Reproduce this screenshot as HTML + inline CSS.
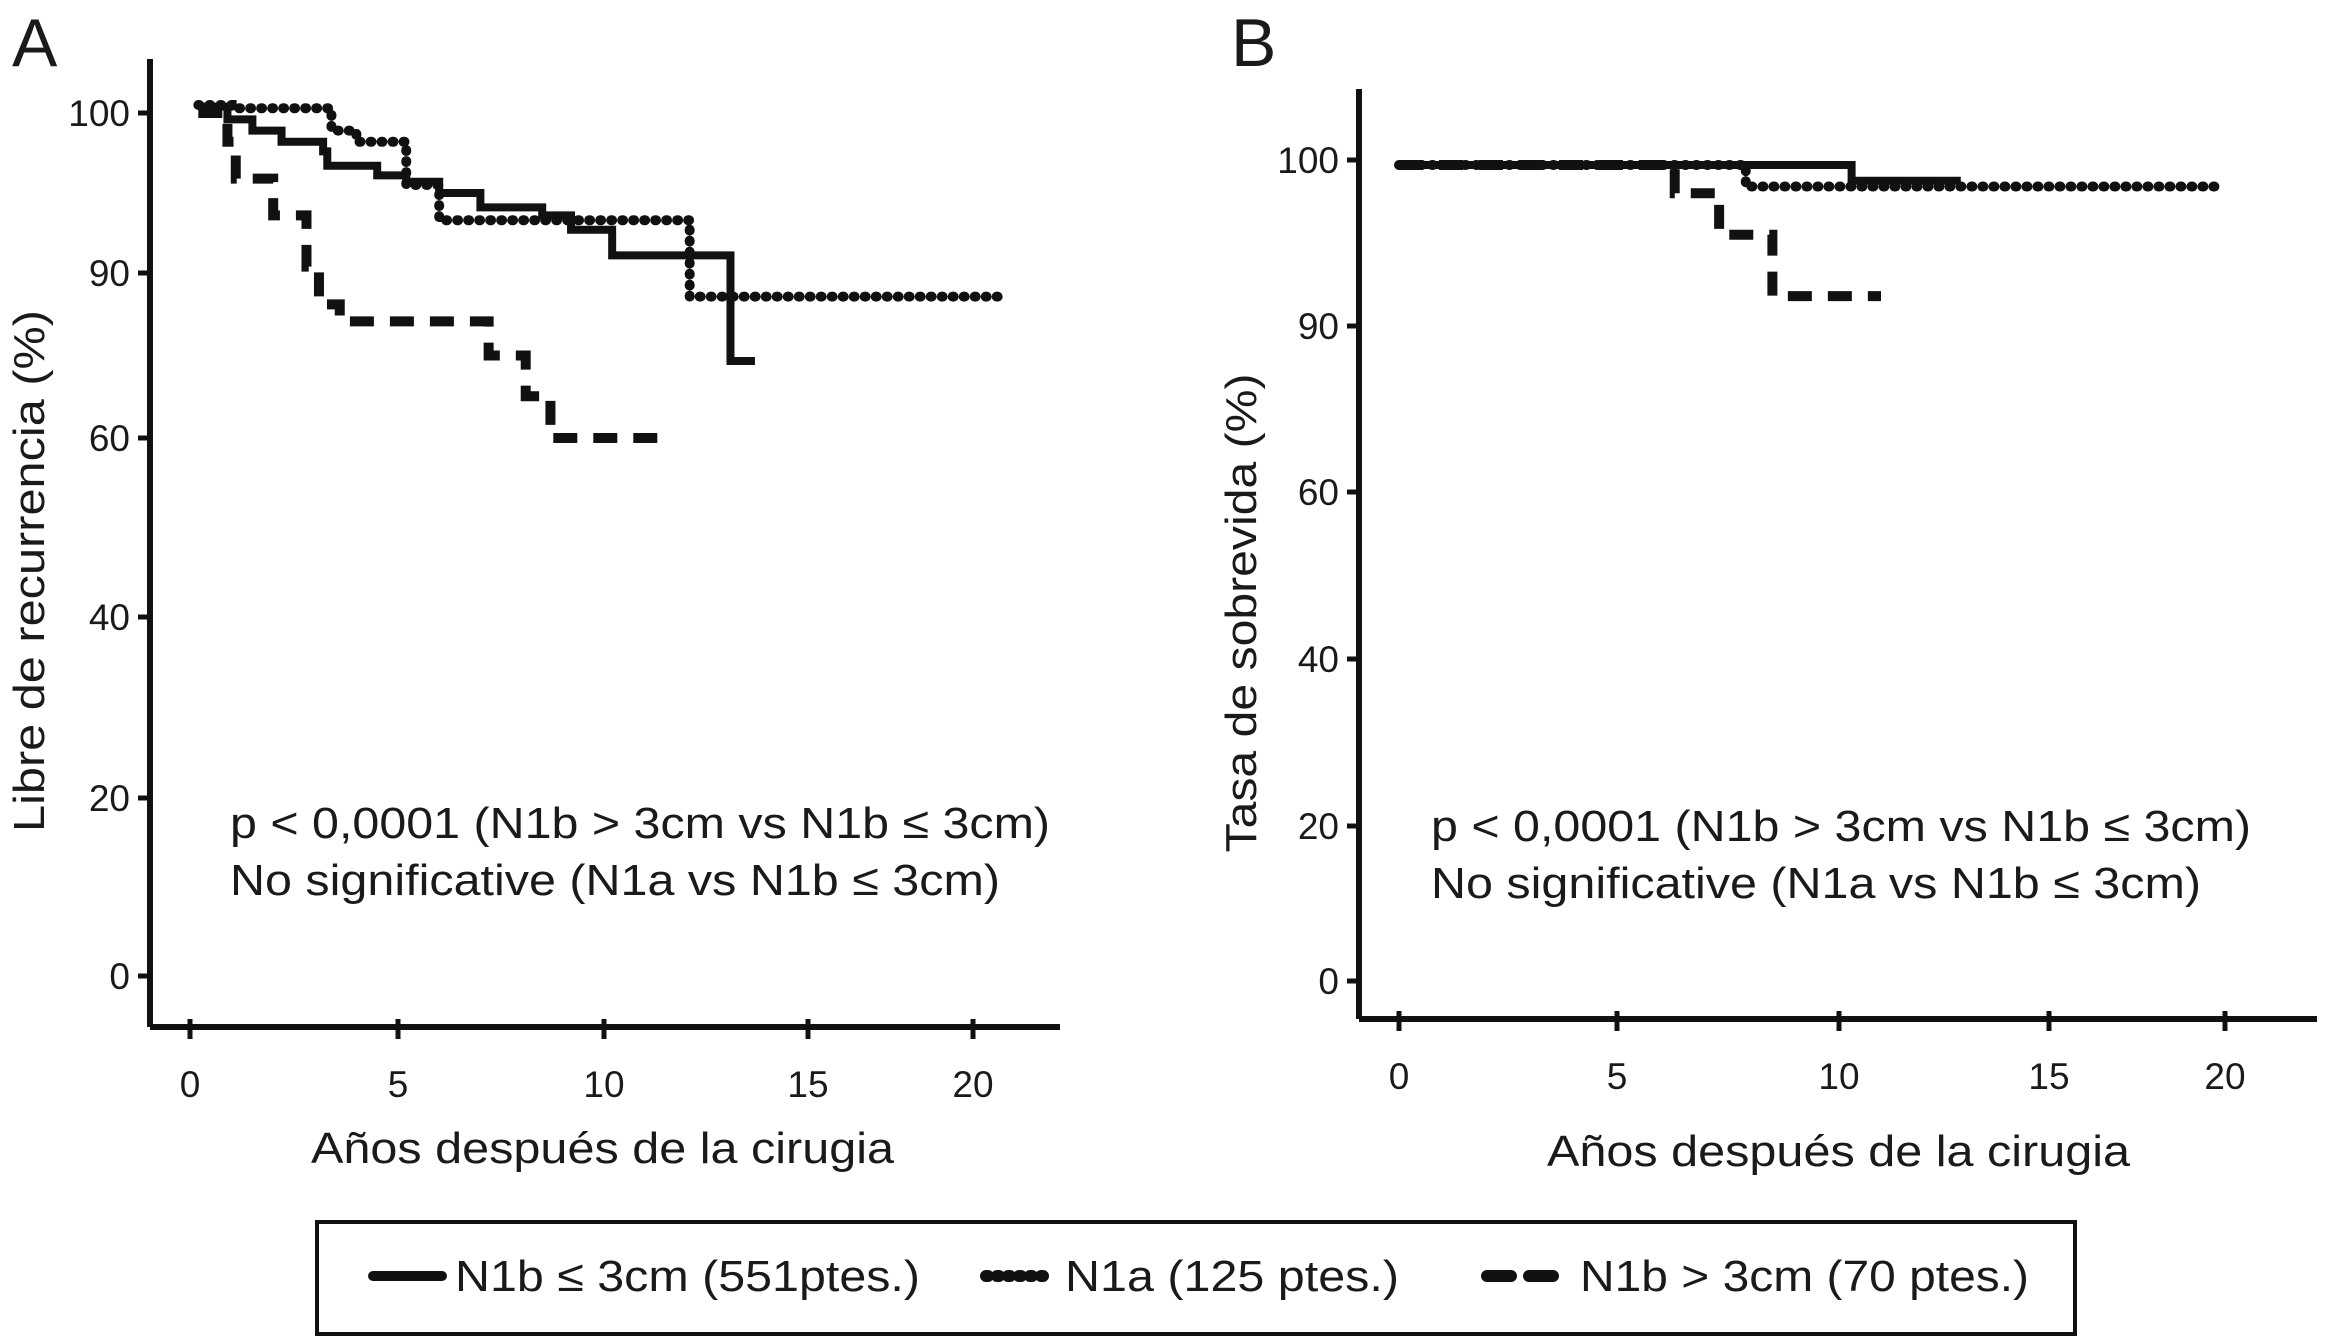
<!DOCTYPE html>
<html><head><meta charset="utf-8">
<style>
html,body{margin:0;padding:0;background:#fff;}
svg{display:block;}
text{font-family:"Liberation Sans",Arial,sans-serif;fill:#1a1a1a;}
</style></head>
<body>
<svg id="fig" width="2326" height="1337" viewBox="0 0 2326 1337" xmlns="http://www.w3.org/2000/svg">
<g id="pa"></g>
<g id="pb"></g>
<g>
  <rect x="317" y="1222" width="1758" height="112" fill="none" stroke="#111" stroke-width="4"/>
  <g>
    <line x1="373" y1="1276" x2="442" y2="1276" stroke="#111" stroke-width="10" stroke-linecap="round"/>
    <text x="455" y="1291" font-size="44" textLength="465" lengthAdjust="spacingAndGlyphs">N1b ≤ 3cm (551ptes.)</text>
  </g>
  <g>
    <line x1="986" y1="1276" x2="1050" y2="1276" stroke="#111" stroke-width="12" stroke-dasharray="2 9" stroke-linecap="round"/>
    <text x="1065" y="1291" font-size="44" textLength="334" lengthAdjust="spacingAndGlyphs">N1a (125 ptes.)</text>
  </g>
  <g>
    <line x1="1487" y1="1276" x2="1565" y2="1276" stroke="#111" stroke-width="12" stroke-dasharray="24 18" stroke-linecap="round"/>
    <text x="1580" y="1291" font-size="44" textLength="449" lengthAdjust="spacingAndGlyphs">N1b &gt; 3cm (70 ptes.)</text>
  </g>
</g>
</svg>
<script>
// ---- Panel A data ----
const xTickLabels = [0, 5, 10, 15, 20];
const yTickLabels = [0, 20, 40, 60, 90, 100];
const aSolidT = [0.2, 0.9, 1.5, 2.2, 3.2, 3.3, 4.5, 5.2, 6.0, 7.0, 8.5, 9.2, 10.2, 13.1, 13.7];
const aSolidV = [100.4, 99.6, 98.9, 98.2, 97.6, 96.7, 96.1, 95.7, 95.0, 94.1, 93.6, 92.7, 91.1, 74, 74];
const aDotT = [0.2, 1.0, 3.4, 4.0, 5.2, 6.0, 12.1, 21.0];
const aDotV = [100.5, 100.3, 98.9, 98.2, 95.5, 93.3, 85.7, 85.7];
const aDashT = [0.2, 0.9, 1.1, 2.0, 2.8, 3.1, 3.6, 7.2, 8.1, 8.7, 11.5];
const aDashV = [100, 98.2, 95.9, 93.6, 90.4, 84.3, 81.2, 75, 67.6, 60, 60];
// ---- Panel B data ----
const bSolidT = [0, 10.3, 12.9];
const bSolidV = [99.7, 98.75, 98.75];
const bDotT = [0, 7.9, 19.7];
const bDotV = [99.7, 98.4, 98.4];
const bDashT = [0, 6.3, 7.3, 8.5, 11.0];
const bDashV = [99.7, 98.0, 95.5, 91.8, 91.8];

const NS = "http://www.w3.org/2000/svg";
function mk(tag, attrs, parent) {
  const e = document.createElementNS(NS, tag);
  for (const k in attrs) e.setAttribute(k, attrs[k]);
  parent.appendChild(e);
  return e;
}
function piece(domain, range) {
  return v => {
    for (let i = 0; i < domain.length - 1; i++) {
      if (v <= domain[i + 1] || i === domain.length - 2) {
        return range[i] + (v - domain[i]) / (domain[i + 1] - domain[i]) * (range[i + 1] - range[i]);
      }
    }
  };
}
function stepPath(T, V, sx, sy) {
  let d = "M" + sx(T[0]) + "," + sy(V[0]);
  for (let i = 1; i < T.length; i++) {
    d += " H" + sx(T[i]) + " V" + sy(V[i]);
  }
  return d;
}
function panel(g, cfg) {
  const sx = piece(xTickLabels, cfg.xpix);
  const sy = piece(yTickLabels, cfg.ypix);
  const ya = mk("line", {x1: cfg.ax, y1: cfg.top, x2: cfg.ax, y2: cfg.ay, stroke: "#111", "stroke-width": 6}, g);
  
  
  const xa = mk("line", {x1: cfg.ax, y1: cfg.ay, x2: cfg.right, y2: cfg.ay, stroke: "#111", "stroke-width": 6}, g);
  
  
  xTickLabels.forEach(v => {
    const x = sx(v);
    mk("line", {x1: x, y1: cfg.ay - 8, x2: x, y2: cfg.ay + 12, stroke: "#111", "stroke-width": 5}, g);
    const t = mk("text", {x: x, y: cfg.ay + 70, "font-size": 37, "text-anchor": "middle"}, g);
    t.textContent = v;
    
    
  });
  yTickLabels.forEach(v => {
    const y = sy(v);
    mk("line", {x1: cfg.ax - 12, y1: y, x2: cfg.ax, y2: y, stroke: "#111", "stroke-width": 5}, g);
    const t = mk("text", {x: cfg.ax - 20, y: y + 13, "font-size": 37, "text-anchor": "end"}, g);
    t.textContent = v;
    
    
  });
  const series = [
    [cfg.solid, {"stroke-width": 8}, 'curve-n1b-small'],
    [cfg.dot, {"stroke-width": 10, "stroke-dasharray": "1 10", "stroke-linecap": "round"}, 'curve-n1a'],
    [cfg.dash, {"stroke-width": 10, "stroke-dasharray": "24 16"}, 'curve-n1b-large']
  ];
  series.forEach(s => {
    const a = Object.assign({d: stepPath(s[0][0], s[0][1], sx, sy), fill: "none", stroke: "#111"}, s[1]);
    const p = mk("path", a, g);
    
    
  });
  const L = mk("text", {x: cfg.letterX, y: 66, "font-size": 68}, g);
  L.textContent = cfg.letter;
  
  
  const yt = mk("text", {x: 0, y: 0, "font-size": 44, "text-anchor": "middle", transform: "translate(" + cfg.ytX + "," + cfg.ytY + ") rotate(-90)", textLength: cfg.ytLen, lengthAdjust: "spacingAndGlyphs"}, g);
  yt.textContent = cfg.ytitle;
  
  
  const xt = mk("text", {x: cfg.xtX, y: cfg.xtY, "font-size": 44, textLength: 583, lengthAdjust: "spacingAndGlyphs"}, g);
  xt.textContent = "Años después de la cirugia";
  
  
  const n1 = mk("text", {x: cfg.anX, y: cfg.anY, "font-size": 44, textLength: 820, lengthAdjust: "spacingAndGlyphs"}, g);
  n1.textContent = "p < 0,0001 (N1b > 3cm vs N1b ≤ 3cm)";
  
  
  const n2 = mk("text", {x: cfg.anX, y: cfg.anY + 57, "font-size": 44, textLength: 770, lengthAdjust: "spacingAndGlyphs"}, g);
  n2.textContent = "No significative (N1a vs N1b ≤ 3cm)";
  
  
}
panel(document.getElementById("pa"), {
  xpix: [190, 398, 604, 808, 973], ypix: [976, 798, 617, 438, 273, 113],
  ax: 150, ay: 1027, top: 59, right: 1060,
  solid: [aSolidT, aSolidV], dot: [aDotT, aDotV], dash: [aDashT, aDashV],
  letter: "A", letterX: 12, ytitle: "Libre de recurrencia (%)", ytX: 44, ytY: 571, ytLen: 522,
  xtX: 311, xtY: 1163, anX: 230, anY: 838
});
panel(document.getElementById("pb"), {
  xpix: [1399, 1617, 1839, 2049, 2225], ypix: [981, 826, 659, 492, 326, 160],
  ax: 1359, ay: 1019, top: 89, right: 2317,
  solid: [bSolidT, bSolidV], dot: [bDotT, bDotV], dash: [bDashT, bDashV],
  letter: "B", letterX: 1231, ytitle: "Tasa de sobrevida (%)", ytX: 1256, ytY: 613, ytLen: 479,
  xtX: 1547, xtY: 1166, anX: 1431, anY: 841
});
</script>
</body></html>
